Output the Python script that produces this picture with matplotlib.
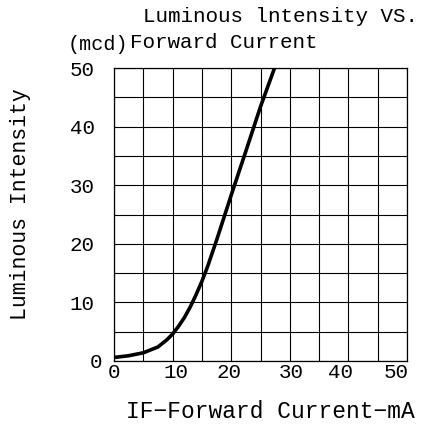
import numpy as np
import matplotlib
matplotlib.use("Agg")
import matplotlib.pyplot as plt
from matplotlib.transforms import ScaledTranslation

# ---- data ----
forward_current_ma = [0, 2.5, 5, 7.5, 9, 10, 11, 12, 13, 14, 15, 16, 17.5, 20, 22.5, 25, 27.4]
luminous_intensity_mcd = [0.6, 0.9, 1.4, 2.4, 3.6, 4.6, 5.9, 7.4, 9.2, 11.3, 13.6, 16.2, 20.6, 28.3, 35.8, 43.4, 50]

x_tick_labels = ["0", "10", "20", "30", "40", "50"]
y_tick_labels = ["0", "10", "20", "30", "40", "50"]
y_tick_values = [0, 10, 20, 30, 40, 50]

title_line1 = "Luminous lntensity VS."
title_line2 = "Forward Current"
unit_text = "(mcd)"
x_label = "IF\u2212Forward Current\u2212mA"
y_label = "Luminous Intensity"

# ---- layout (label placement as drawn in the reference) ----
x_label_positions = [0, 10.5, 19.6, 30.3, 38.6, 48.2]
grid_step = 5
W, H = 428, 426

FONT = ["Liberation Mono", "DejaVu Sans Mono"]
plt.rcParams["font.family"] = FONT

fig = plt.figure(figsize=(W / 100, H / 100), dpi=100)
ax = fig.add_axes([114 / W, 1 - 361 / H, (407 - 114) / W, (361 - 68) / H])

ax.plot(forward_current_ma, luminous_intensity_mcd, color="black", lw=2.6,
        solid_capstyle="butt", zorder=3)

ax.set_xlim(0, 50)
ax.set_ylim(0, 50)

ax.xaxis.remove_overlapping_locs = False
ax.yaxis.remove_overlapping_locs = False
ax.set_xticks(x_label_positions)
ax.set_xticklabels(x_tick_labels)
ax.set_yticks(y_tick_values)
ax.set_yticklabels(y_tick_labels)
ax.set_xticks(np.arange(0, 51, grid_step), minor=True)
ax.set_yticks(np.arange(0, 51, grid_step), minor=True)
ax.tick_params(which="both", length=0)
ax.tick_params(axis="x", which="major", labelsize=15, pad=1.5)
ax.tick_params(axis="y", which="major", labelsize=15, pad=14)
ax.grid(which="minor", color="black", lw=0.8)
ax.grid(which="major", visible=False)
for s in ax.spines.values():
    s.set_linewidth(0.9)
    s.set_color("black")

# the "0" on the y axis sits closer to the axis in the reference
lbl0 = ax.get_yticklabels()[0]
lbl0.set_transform(lbl0.get_transform() + ScaledTranslation(8 / 100, 1 / 100, fig.dpi_scale_trans))

fig.text(143 / W, 1 - 16 / H, title_line1, ha="left", va="center", fontsize=15)
fig.text(130 / W, 1 - 43 / H, title_line2, ha="left", va="center", fontsize=15)
fig.text(68 / W, 1 - 45 / H, unit_text, ha="left", va="center", fontsize=14.5)
fig.text(270 / W, 1 - 411 / H, x_label, ha="center", va="center", fontsize=16.5)
fig.text(21 / W, 1 - 204 / H, y_label, ha="center", va="center", rotation=90, fontsize=15.5)

fig.savefig("out.png", dpi=100)
